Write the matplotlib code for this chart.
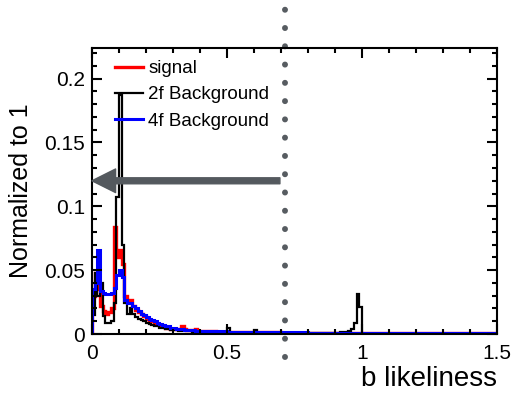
import numpy as np
import matplotlib
matplotlib.use("Agg")
import matplotlib.pyplot as plt
from matplotlib.ticker import MultipleLocator

plt.rcParams['font.family'] = ['Liberation Sans', 'DejaVu Sans']

# bin edges: 0 to 1.5 in steps of 0.01 (150 bins)
bin_edges = np.linspace(0, 1.5, 151)

# values, bin by bin
signal = [0.030, 0.048, 0.035, 0.022, 0.018, 0.016, 0.017, 0.020, 0.084, 0.060,
          0.066, 0.055, 0.030, 0.025, 0.027, 0.022, 0.019, 0.017, 0.016, 0.014,
          0.012, 0.011, 0.010, 0.009, 0.008, 0.007, 0.006, 0.005, 0.005, 0.004,
          0.004, 0.004, 0.004, 0.006, 0.004, 0.003, 0.003, 0.003, 0.004, 0.002,
          0.002, 0.002, 0.002, 0.002, 0.002, 0.002, 0.0015, 0.0015, 0.0015, 0.0015,
          0.0012, 0.0012, 0.0012, 0.0012, 0.0012, 0.0012, 0.0012, 0.0012, 0.0012, 0.0012,
          0.0012, 0.0012, 0.0012, 0.0012, 0.0012, 0.0012, 0.0012, 0.0012, 0.0012, 0.0012,
          0.0010, 0.0010, 0.0010, 0.0010, 0.0010, 0.0010, 0.0010, 0.0010, 0.0010, 0.0010,
          0.0010, 0.0010, 0.0010, 0.0010, 0.0010, 0.0010, 0.0010, 0.0010, 0.0010, 0.0010,
          0.0010, 0.0010, 0.0010, 0.0010, 0.0010, 0.0010, 0.0010, 0.0010, 0.0010, 0.0010,
          0.0008, 0.0008, 0.0008, 0.0008, 0.0008, 0.0008, 0.0008, 0.0008, 0.0008, 0.0008,
          0.0008, 0.0008, 0.0008, 0.0008, 0.0008, 0.0008, 0.0008, 0.0008, 0.0008, 0.0008,
          0.0008, 0.0008, 0.0008, 0.0008, 0.0008, 0.0008, 0.0008, 0.0008, 0.0008, 0.0008,
          0.0008, 0.0008, 0.0008, 0.0008, 0.0008, 0.0008, 0.0008, 0.0008, 0.0008, 0.0008,
          0.0008, 0.0008, 0.0008, 0.0008, 0.0008, 0.0008, 0.0008, 0.0008, 0.0008, 0.0008]

bkg_2f = [0.015, 0.048, 0.030, 0.040, 0.014, 0.009, 0.009, 0.010, 0.024, 0.107,
          0.187, 0.070, 0.024, 0.016, 0.020, 0.016, 0.013, 0.012, 0.011, 0.010,
          0.009, 0.008, 0.007, 0.006, 0.006, 0.005, 0.005, 0.004, 0.004, 0.003,
          0.003, 0.003, 0.002, 0.002, 0.002, 0.002, 0.002, 0.0015, 0.0015, 0.0015,
          0.0010, 0.0010, 0.0010, 0.0010, 0.0010, 0.0010, 0.0010, 0.0010, 0.0010, 0.0010,
          0.0050, 0.0010, 0.0010, 0.0010, 0.0010, 0.0010, 0.0010, 0.0010, 0.0010, 0.0010,
          0.0030, 0.0007, 0.0007, 0.0007, 0.0007, 0.0007, 0.0007, 0.0007, 0.0007, 0.0007,
          0.0007, 0.0007, 0.0007, 0.0007, 0.0007, 0.0007, 0.0007, 0.0007, 0.0007, 0.0007,
          0.0007, 0.0007, 0.0007, 0.0007, 0.0007, 0.0007, 0.0007, 0.0007, 0.0007, 0.0007,
          0.0010, 0.0010, 0.0012, 0.0012, 0.0015, 0.0020, 0.0040, 0.0090, 0.0310, 0.0210,
          0.0003, 0.0003, 0.0003, 0.0003, 0.0003, 0.0003, 0.0003, 0.0003, 0.0003, 0.0003,
          0.0003, 0.0003, 0.0003, 0.0003, 0.0003, 0.0003, 0.0003, 0.0003, 0.0003, 0.0003,
          0.0003, 0.0003, 0.0003, 0.0003, 0.0003, 0.0003, 0.0003, 0.0003, 0.0003, 0.0003,
          0.0003, 0.0003, 0.0003, 0.0003, 0.0003, 0.0003, 0.0003, 0.0003, 0.0003, 0.0003,
          0.0003, 0.0003, 0.0003, 0.0003, 0.0003, 0.0003, 0.0003, 0.0003, 0.0003, 0.0003]

bkg_4f = [0.035, 0.040, 0.066, 0.034, 0.032, 0.031, 0.031, 0.032, 0.036, 0.046,
          0.050, 0.045, 0.027, 0.024, 0.024, 0.022, 0.020, 0.018, 0.016, 0.015,
          0.013, 0.012, 0.011, 0.010, 0.009, 0.008, 0.007, 0.006, 0.006, 0.005,
          0.005, 0.004, 0.004, 0.004, 0.003, 0.003, 0.003, 0.003, 0.0025, 0.0025,
          0.0020, 0.0020, 0.0020, 0.0020, 0.0020, 0.0020, 0.0020, 0.0020, 0.0020, 0.0020,
          0.0018, 0.0018, 0.0018, 0.0018, 0.0018, 0.0018, 0.0018, 0.0018, 0.0018, 0.0018,
          0.0015, 0.0015, 0.0015, 0.0015, 0.0015, 0.0015, 0.0015, 0.0015, 0.0015, 0.0015,
          0.0012, 0.0012, 0.0012, 0.0012, 0.0012, 0.0012, 0.0012, 0.0012, 0.0012, 0.0012,
          0.0010, 0.0010, 0.0010, 0.0010, 0.0010, 0.0010, 0.0010, 0.0010, 0.0010, 0.0010,
          0.0010, 0.0010, 0.0010, 0.0010, 0.0010, 0.0010, 0.0010, 0.0010, 0.0010, 0.0010,
          0.0009, 0.0009, 0.0009, 0.0009, 0.0009, 0.0009, 0.0009, 0.0009, 0.0009, 0.0009,
          0.0009, 0.0009, 0.0009, 0.0009, 0.0009, 0.0009, 0.0009, 0.0009, 0.0009, 0.0009,
          0.0009, 0.0009, 0.0009, 0.0009, 0.0009, 0.0009, 0.0009, 0.0009, 0.0009, 0.0009,
          0.0009, 0.0009, 0.0009, 0.0009, 0.0009, 0.0009, 0.0009, 0.0009, 0.0009, 0.0009,
          0.0009, 0.0009, 0.0009, 0.0009, 0.0009, 0.0009, 0.0009, 0.0009, 0.0009, 0.0009]

labels = ["signal", "2f Background", "4f Background"]
cut_value = 0.715
arrow_y = 0.12


fig = plt.figure(figsize=(5.13, 3.99), dpi=100)
ax = fig.add_axes([0.1793, 0.1629, 0.7895, 0.7168])

ax.stairs(signal, bin_edges, color="red", lw=2.4, label=labels[0])
ax.stairs(bkg_2f, bin_edges, color="black", lw=1.6, label=labels[1])
ax.stairs(bkg_4f, bin_edges, color="blue", lw=2.2, label=labels[2])

ax.set_xlim(0, 1.5)
ax.set_ylim(0, 0.224)

# ROOT style ticks on every side
ax.xaxis.set_major_locator(MultipleLocator(0.5))
ax.xaxis.set_minor_locator(MultipleLocator(0.1))
ax.yaxis.set_major_locator(MultipleLocator(0.05))
ax.yaxis.set_minor_locator(MultipleLocator(0.01))
ax.tick_params(which="both", direction="in", top=True, right=True, width=1.5, labelsize=15)
ax.tick_params(which="major", length=7)
ax.tick_params(which="minor", length=3.5)
ax.tick_params(axis="x", pad=7)
ax.tick_params(axis="y", pad=5)
ax.set_xticks([0, 0.5, 1.0, 1.5], ["0", "0.5", "1", "1.5"])
ax.set_yticks([0, 0.05, 0.1, 0.15, 0.2], ["0", "0.05", "0.1", "0.15", "0.2"])
for sp in ax.spines.values():
    sp.set_linewidth(1.5)

ax.set_xlabel("b likeliness", fontsize=20, loc="right", labelpad=2)
ax.set_ylabel("Normalized to 1", fontsize=18, labelpad=8)

leg = ax.legend(loc="upper left", bbox_to_anchor=(0.057, 0.958), frameon=False, fontsize=13.5,
                handlelength=1.5, handletextpad=0.27, labelspacing=0.49,
                borderaxespad=0, borderpad=0)

# cut line and arrow
ax.plot([cut_value, cut_value], [-0.018, 0.256], color="#575c61", lw=4.3,
        linestyle=(0, (0.01, 3.05)), dash_capstyle="round", clip_on=False)
ax.annotate("", xy=(0, arrow_y), xytext=(0.696, arrow_y),
            arrowprops=dict(arrowstyle="simple,head_length=17,head_width=17,tail_width=4.3",
                            mutation_scale=1, color="#54595e", shrinkA=0, shrinkB=0))

fig.savefig("out.png", dpi=100)
